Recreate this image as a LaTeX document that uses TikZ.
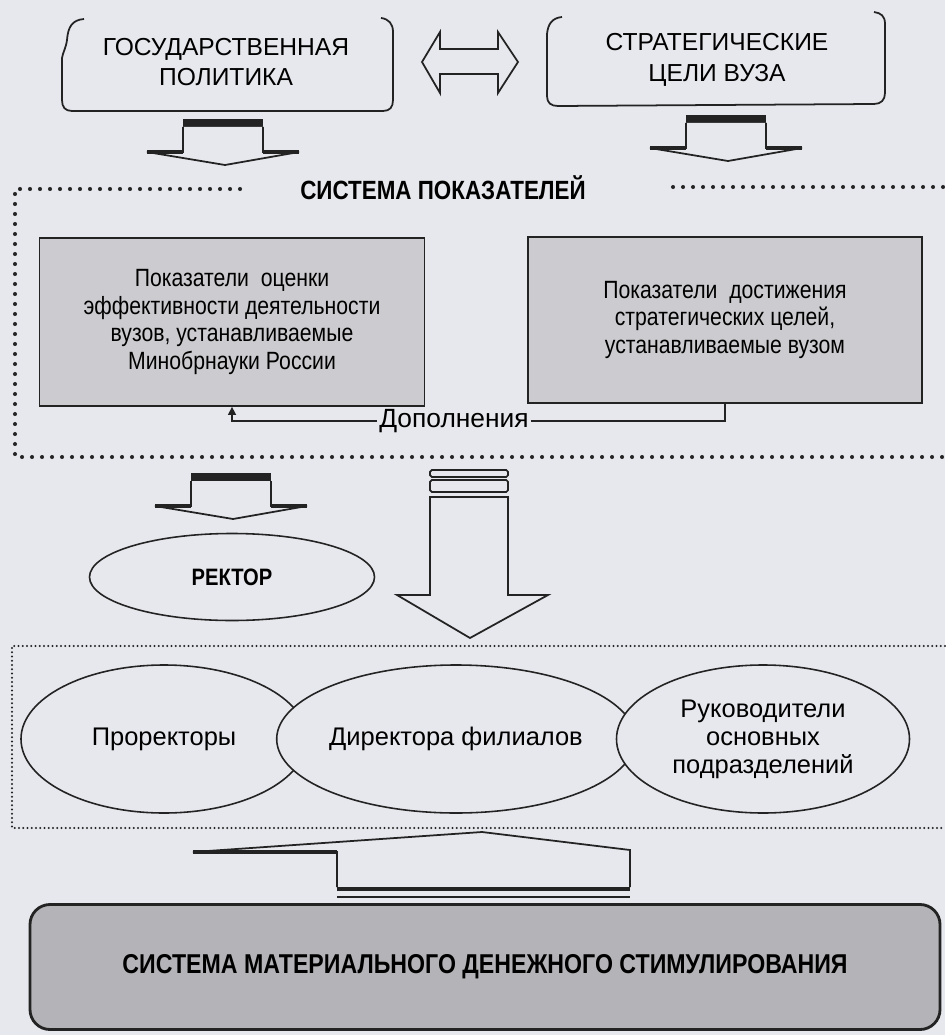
\documentclass[tikz,border=0pt]{standalone}
\usepackage{fontspec}
\setmainfont{Liberation Sans}
\newfontfamily\narrowfont[FakeStretch=0.85]{Liberation Sans}
\usetikzlibrary{shapes.geometric,arrows.meta}
\definecolor{paper}{RGB}{231,232,237}
\definecolor{boxgray}{RGB}{204,204,208}
\definecolor{stimgray}{RGB}{180,180,184}
\definecolor{ink}{RGB}{35,35,35}
\tikzset{>={Triangle[length=1.6mm,width=1.6mm]}}
\tikzset{
  pokbox/.style = {draw=ink, fill=boxgray, line width=1pt, align=center,
    font=\narrowfont\fontsize{14.2}{15.6}\selectfont},
  oval/.style = {ellipse, draw=ink, line width=0.9pt, fill=paper, inner sep=0pt,
    align=center, font=\fontsize{14.5}{16}\selectfont},
  capstext/.style = {align=center, font=\fontsize{14}{17.6}\selectfont},
  dots/.style = {ink, line width=2.3pt, line cap=round, dash pattern=on 0pt off 2mm},
  finedots/.style = {ink, line width=1.3pt, line cap=round, dash pattern=on 0pt off 0.85mm}
}
% block arrow down: centre x, top y
\newcommand{\blkdown}[2]{%
  \fill[ink] (#1-40,#2) rectangle (#1+40,#2+8);
  \draw[ink,line width=1pt,fill=paper] (#1-40,#2+8) -- (#1-40,#2+33) -- (#1-76,#2+33)
    -- (#1+2,#2+46) -- (#1+76,#2+33) -- (#1+40,#2+33) -- (#1+40,#2+8);
  \draw[ink,line width=2.2pt] (#1-76,#2+33) -- (#1-40,#2+33) (#1+40,#2+33) -- (#1+76,#2+33);
}

\begin{document}
\begin{tikzpicture}[x=0.2mm,y=-0.2mm]
  \fill[paper] (0,0) rectangle (945,1035);
  \useasboundingbox (0,0) rectangle (945,1035);
  % top boxes
  \draw[ink,line width=1pt] (84,19) .. controls (72,20) and (68,27) .. (67,40)
    .. controls (66,48) and (63,52) .. (62,58) -- (62,100)
    .. controls (62,107) and (65,111) .. (72,111) -- (383,111)
    .. controls (390,111) and (393,107) .. (393,100) -- (393,32)
    .. controls (393,24) and (389,19) .. (381,18);
  \node[capstext] (gos) at (226,62) {ГОСУДАРСТВЕННАЯ\\ПОЛИТИКА};
  \draw[ink,line width=1pt] (562,17) .. controls (552,18) and (548,24) .. (547,34)
    -- (547,96) .. controls (547,103) and (551,106) .. (558,106) -- (874,104)
    .. controls (881,104) and (885,100) .. (885,93) -- (885,24)
    .. controls (885,16) and (881,13) .. (874,12);
  \node[capstext] (strat) at (717,60) {СТРАТЕГИЧЕСКИЕ\\ЦЕЛИ ВУЗА};
  % double arrow
  \draw[ink,line width=1pt] (422,62) -- (440,32) -- (440,49) -- (498,49) -- (498,32)
    -- (518,62) -- (498,93) -- (498,74) -- (440,74) -- (440,93) -- cycle;
  \blkdown{223}{119}
  \blkdown{726}{115}
  % indicator system
  \node[font=\narrowfont\fontsize{15}{15}\selectfont\bfseries] (sys) at (443,188)
    {СИСТЕМА ПОКАЗАТЕЛЕЙ};
  \draw[dots] (240,189) -- (15,189) -- (15,457) -- (945,457);
  \draw[dots] (673,187) -- (945,187);
  \node[pokbox, minimum width=77mm, minimum height=33.6mm] (pok1) at (232,322)
    {Показатели\ \ оценки\\эффективности деятельности\\
     вузов, устанавливаемые\\Минобрнауки России};
  \node[pokbox, minimum width=78.8mm, minimum height=33.2mm] (pok2) at (725,320)
    {Показатели\ \ достижения\\стратегических целей,\\устанавливаемые вузом};
  \node[inner sep=1pt, font=\fontsize{15}{16}\selectfont] (dop) at (454,421) {Дополнения};
  \draw[ink,line width=0.8pt,->] (dop.west) -| (pok1.south);
  \draw[ink,line width=0.8pt] (dop.east) -| (pok2.south);
  % rector
  \blkdown{231}{473}
  \node[oval, minimum width=57mm, minimum height=17.4mm,
    font=\narrowfont\fontsize{13.5}{16}\selectfont\bfseries] (rect) at (232,577) {РЕКТОР};
  % long arrow
  \draw[ink,line width=1pt,rounded corners=1pt] (430,470) rectangle (508,477);
  \draw[ink,line width=1pt,rounded corners=1pt] (430,480) rectangle (508,492);
  \draw[ink,line width=1pt] (430,497) -- (430,595) -- (397,595) -- (470,638)
    -- (548,595) -- (508,595) -- (508,497) -- cycle;
  % managers
  \draw[finedots] (945,646) -- (12,646) -- (12,828) -- (945,828);
  \node[oval, minimum width=57.2mm, minimum height=29.6mm] (pror) at (164,739) {Проректоры};
  \node[oval, minimum width=58.4mm, minimum height=29.6mm] (dir) at (456,739) {Директора филиалов};
  \node[oval, minimum width=58.6mm, minimum height=29.6mm] (ruk) at (763,739)
    {Руководители\\основных\\подразделений};
  % up arrow
  \draw[ink,line width=1pt,fill=paper] (337,887) -- (337,852) -- (193,852) -- (482,832)
    -- (630,850) -- (630,887);
  \draw[ink,line width=2.4pt] (193,852) -- (337,852);
  \draw[ink,line width=2.6pt] (337,889) -- (630,889);
  \draw[ink,line width=1.4pt] (337,897) -- (630,897);
  % stimulation
  \node[draw=ink, fill=stimgray, line width=1.6pt, rounded corners=4mm,
    minimum width=182mm, minimum height=25mm,
    font=\narrowfont\fontsize{15.5}{16}\selectfont\bfseries] (stim) at (485,967)
    {СИСТЕМА МАТЕРИАЛЬНОГО ДЕНЕЖНОГО СТИМУЛИРОВАНИЯ};
\end{tikzpicture}
\end{document}
